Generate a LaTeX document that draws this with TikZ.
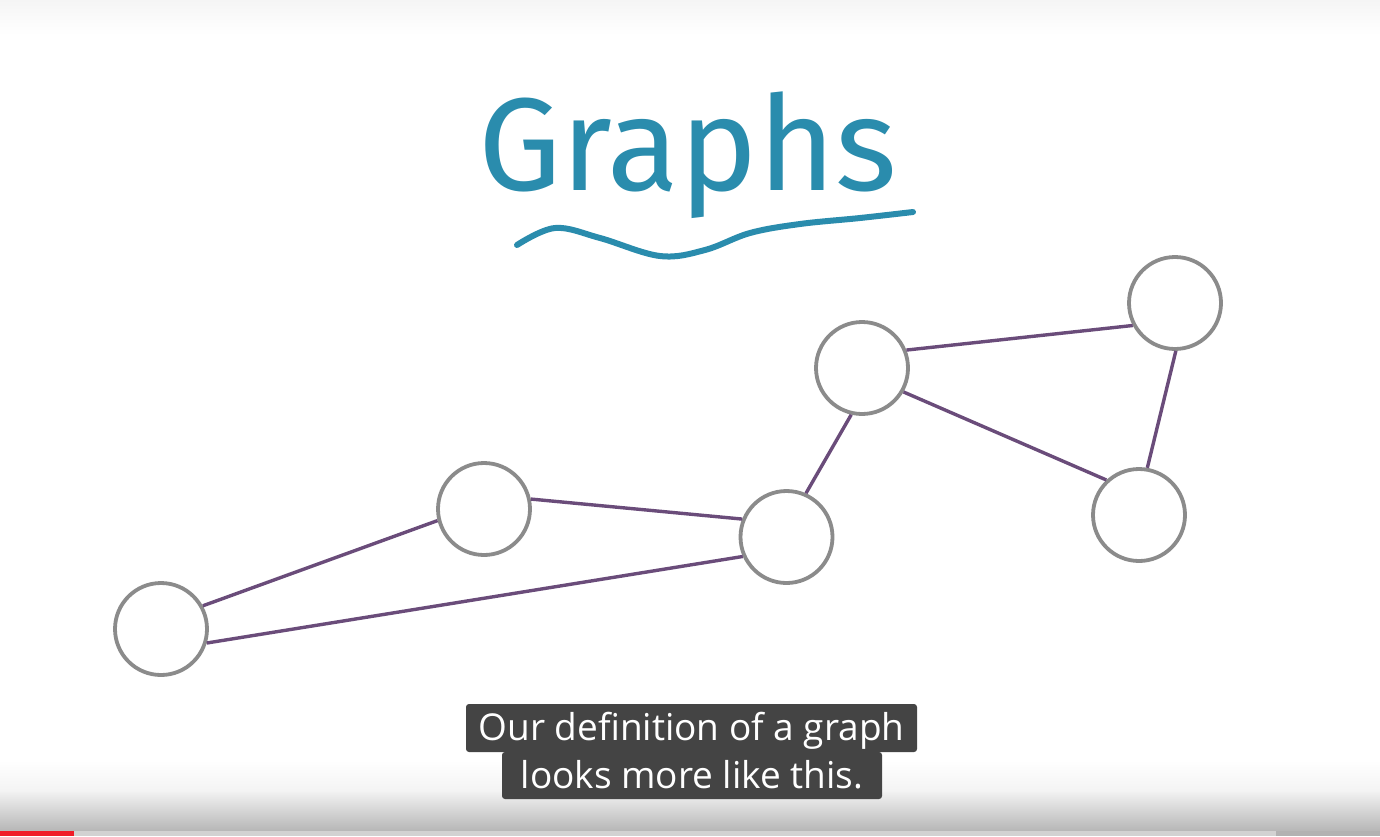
\documentclass[tikz,border=0pt]{standalone}
\usepackage{fontspec}
\setmainfont{Open Sans}
\newfontfamily\titlefont{Fira Sans}
\definecolor{vgray}{HTML}{8B8B8B}
\definecolor{epurple}{HTML}{6A4C7A}
\definecolor{teal2}{HTML}{2A8CAD}
\definecolor{capbg}{HTML}{444444}
\definecolor{ytred}{HTML}{F01B28}
\definecolor{barlight}{HTML}{D2D2D2}
\definecolor{bardark}{HTML}{B2B2B2}
\definecolor{fadeA}{HTML}{F4F4F4}
\definecolor{fadeB}{HTML}{B6B6B6}
\definecolor{topfade}{HTML}{F5F5F5}
\tikzset{
  vertex/.style={circle, draw=vgray, line width=3.8pt, minimum size=92pt, inner sep=0pt, fill=white},
  edge/.style={draw=epurple, line width=3.4pt},
  capbox/.style={fill=capbg, rounded corners=3pt, text=white, inner sep=0pt, font=\fontsize{37}{40}\selectfont},
  title/.style={text=teal2, inner sep=0pt, font=\titlefont\fontsize{132}{140}\selectfont}
}
\begin{document}
\begin{tikzpicture}[x=1pt,y=-1pt]
\useasboundingbox (0,0) rectangle (1380,836);
\fill[white] (0,0) rectangle (1380,836);
% top fade
\shade[top color=topfade, bottom color=white] (0,0) rectangle (1380,35);
% bottom player fade
\shade[top color=white, bottom color=fadeA] (0,760) rectangle (1380,790);
\shade[top color=fadeA, bottom color=fadeB] (0,790) rectangle (1380,831);
% progress bar
\fill[barlight] (74,831) rectangle (1276,836);
\fill[bardark] (1276,831) rectangle (1380,836);
\fill[ytred] (0,831) rectangle (74,836);

% title
\node[title, anchor=base west] (title) at (478,190) {Graphs};
\draw[teal2, line width=6pt, line cap=round] plot[smooth, tension=0.6] coordinates {(517,245) (555,228) (600,238) (660,256) (705,250) (750,233) (800,224) (860,218) (913,212)};

% vertices
\node[vertex] (A) at (161,629) {};
\node[vertex] (B) at (484,509) {};
\node[vertex] (C) at (786.5,537) {};
\node[vertex] (D) at (862,368) {};
\node[vertex] (E) at (1175,303) {};
\node[vertex] (F) at (1139,515) {};

% edges
\draw[edge] (A.29) -- (B.194);
\draw[edge] (A.-17) -- (C.204);
\draw[edge] (B.12) -- (C.158);
\draw[edge] (C.66) -- (D.257);
\draw[edge] (D.22) -- (E.208);
\draw[edge] (D.-30) -- (F.133);
\draw[edge] (E.271) -- (F.80);

% captions
\node[capbox, minimum width=451pt, minimum height=48pt, text height=30pt, text depth=6pt] (cap1) at (691.5,728) {Our definition of a graph};
\node[capbox, minimum width=380pt, minimum height=47pt, text height=31pt, text depth=6pt] (cap2) at (692,775.5) {looks more like this.};
\end{tikzpicture}
\end{document}
